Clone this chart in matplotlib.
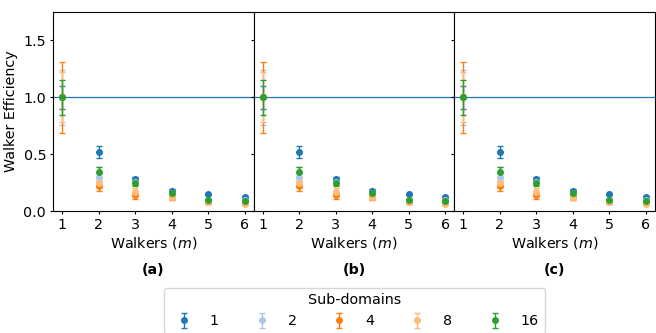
import numpy as np
import matplotlib.pyplot as plt

walkers = [1, 2, 3, 4, 5, 6]
subdomains = ['1', '2', '4', '8', '16']
colors = ['#1f77b4', '#aec7e8', '#ff7f0e', '#ffbb78', '#2ca02c']

# efficiency per sub-domain count, and error bar half-widths
eff = {
    '1':  [1.0, 0.52, 0.28, 0.18, 0.15, 0.12],
    '2':  [1.0, 0.30, 0.26, 0.16, 0.09, 0.10],
    '4':  [1.0, 0.22, 0.14, 0.12, 0.08, 0.07],
    '8':  [1.0, 0.25, 0.17, 0.12, 0.08, 0.065],
    '16': [1.0, 0.34, 0.25, 0.155, 0.095, 0.09],
}
err = {
    '1':  [0.10, 0.05, 0.02, 0.015, 0.01, 0.01],
    '2':  [0.24, 0.09, 0.03, 0.02, 0.01, 0.01],
    '4':  [0.31, 0.045, 0.03, 0.02, 0.015, 0.01],
    '8':  [0.22, 0.03, 0.03, 0.02, 0.01, 0.01],
    '16': [0.155, 0.045, 0.03, 0.02, 0.01, 0.01],
}
panels = ['(a)', '(b)', '(c)']

plt.rcParams['font.size'] = 10.3
fig, axes = plt.subplots(1, 3, sharey=True, figsize=(6.56, 3.33), dpi=100)
fig.subplots_adjust(left=0.081, right=0.998, bottom=0.366, top=0.964, wspace=0)

for ax, lab in zip(axes, panels):
    for sd, c in zip(subdomains, colors):
        ax.errorbar(walkers, eff[sd], yerr=err[sd], fmt='o', color=c, ms=4,
                    capsize=2, elinewidth=1, capthick=1, label=sd)
    ax.axhline(1.0, color='#1f77b4', lw=0.9)
    ax.set_xlim(0.75, 6.25)
    ax.set_ylim(0, 1.75)
    ax.set_xticks(walkers)
    ax.tick_params(length=2, pad=3)
    ax.set_xlabel('Walkers ($m$)', labelpad=2)
    ax.text(0.5, -0.26, lab, transform=ax.transAxes, ha='center', va='top',
            fontweight='bold')
axes[0].set_yticks([0.0, 0.5, 1.0, 1.5])
axes[0].set_ylabel('Walker Efficiency')

handles, labels = axes[0].get_legend_handles_labels()
fig.legend(handles, labels, title='Sub-domains', loc='upper center',
           bbox_to_anchor=(0.54, 0.158), ncol=5, columnspacing=2.0,
           handlelength=2.0, fontsize=10.3, title_fontsize=10.3)

fig.savefig('out.png', dpi=100)
